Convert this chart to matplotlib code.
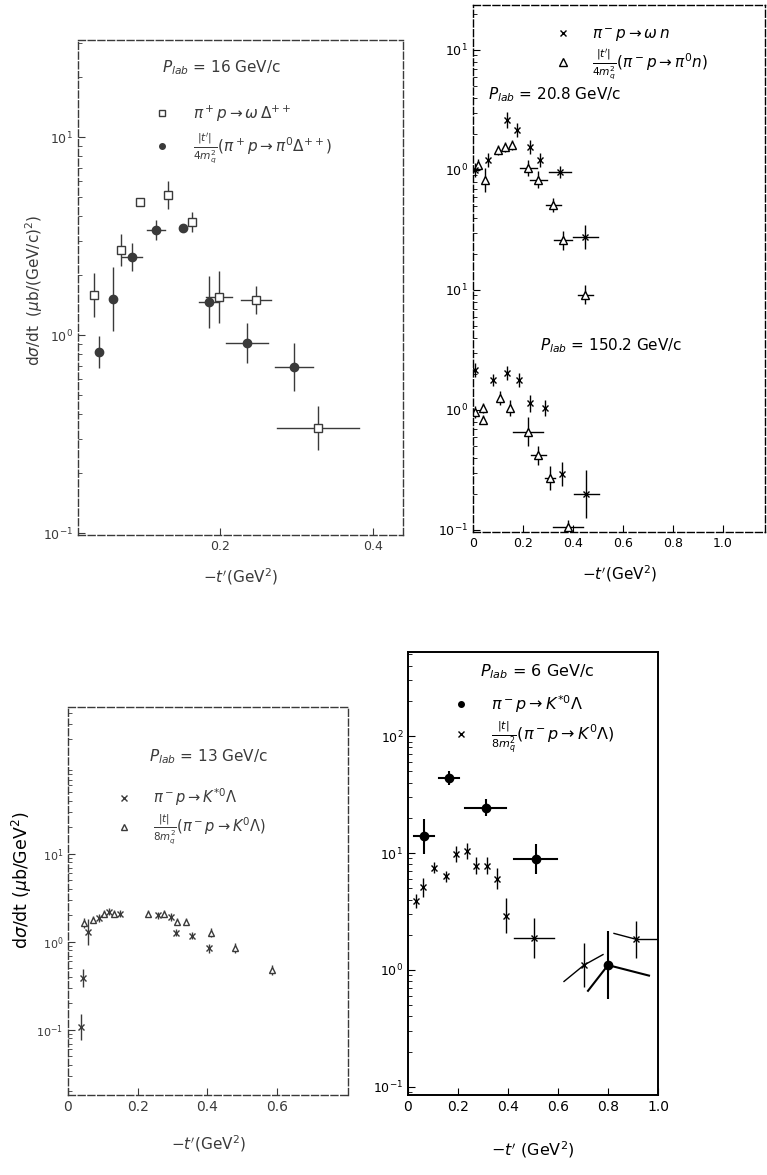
import numpy as np
import matplotlib
matplotlib.use("Agg")
import matplotlib.pyplot as plt
from matplotlib.lines import Line2D

plt.rcParams['font.family'] = ['DejaVu Sans']
plt.rcParams['mathtext.fontset'] = 'dejavusans'

# --- P_lab = 16 GeV/c (pi+ p) ---
t_om16 = [0.035, 0.071, 0.095, 0.132, 0.163, 0.199, 0.247, 0.328]
ds_om16 = [1.59, 2.69, 4.7, 5.1, 3.72, 1.56, 1.50, 0.34]
e_om16 = [0.11, 0.08, 0.02, 0.07, 0.05, 0.13, 0.07, 0.11]
dx_om16 = [0, 0, 0, 0, 0, 0.017, 0.02, 0.053]

t_pi16 = [0.042, 0.060, 0.085, 0.116, 0.152, 0.186, 0.235, 0.297]
ds_pi16 = [0.82, 1.52, 2.48, 3.39, 3.47, 1.47, 0.91, 0.69]
e_pi16 = [0.08, 0.16, 0.07, 0.05, 0.02, 0.13, 0.10, 0.12]
dx_pi16 = [0, 0, 0.013, 0.012, 0, 0.013, 0.027, 0.025]

# --- P_lab = 20.8 GeV/c (pi- p), drawn shifted up by 100 ---
t_om208 = [0.008, 0.06, 0.136, 0.176, 0.228, 0.268, 0.348, 0.448]
ds_om208 = [1.0, 1.21, 2.61, 2.15, 1.55, 1.21, 0.96, 0.277]
e_om208 = [0.06, 0.06, 0.07, 0.06, 0.06, 0.06, 0.05, 0.1]
dx_om208 = [0, 0, 0, 0, 0, 0, 0.044, 0.05]

t_pi208 = [0.02, 0.048, 0.10, 0.128, 0.156, 0.22, 0.26, 0.32, 0.36, 0.448]
ds_pi208 = [1.10, 0.83, 1.47, 1.55, 1.62, 1.04, 0.83, 0.51, 0.26, 0.091]
e_pi208 = [0.05, 0.1, 0.04, 0.04, 0.04, 0.07, 0.07, 0.06, 0.08, 0.08]
dx_pi208 = [0, 0, 0, 0, 0, 0.034, 0.034, 0.03, 0.035, 0.03]
shift_208 = 100.0

# --- P_lab = 150.2 GeV/c ---
t_om152 = [0.008, 0.08, 0.136, 0.184, 0.228, 0.288, 0.356, 0.452]
ds_om152 = [2.15, 1.78, 2.03, 1.78, 1.14, 1.04, 0.29, 0.20]
e_om152 = [0.06, 0.05, 0.06, 0.06, 0.07, 0.07, 0.1, 0.2]
dx_om152 = [0, 0, 0, 0, 0, 0, 0, 0.05]

t_pi152 = [0.008, 0.04, 0.04, 0.108, 0.148, 0.22, 0.26, 0.308, 0.38]
ds_pi152 = [0.96, 1.04, 0.83, 1.26, 1.04, 0.66, 0.42, 0.27, 0.106]
e_pi152 = [0.05, 0.04, 0.04, 0.06, 0.07, 0.12, 0.08, 0.1, 0.06]
dx_pi152 = [0, 0, 0, 0, 0, 0.06, 0.03, 0.02, 0.06]

# --- P_lab = 13 GeV/c ---
t_ks13 = [0.037, 0.043, 0.057, 0.089, 0.117, 0.149, 0.257, 0.294, 0.309, 0.357, 0.403]
ds_ks13 = [0.108, 0.39, 1.3, 1.87, 2.2, 2.1, 2.0, 1.92, 1.27, 1.17, 0.85]
e_ks13 = [0.15, 0.1, 0.15, 0.05, 0.04, 0.04, 0.04, 0.04, 0.04, 0.04, 0.05]

t_k013 = [0.046, 0.071, 0.103, 0.131, 0.229, 0.274, 0.314, 0.337, 0.409, 0.48, 0.586]
ds_k013 = [1.64, 1.78, 2.1, 2.1, 2.1, 2.1, 1.69, 1.69, 1.27, 0.85, 0.48]
e_k013 = [0.06, 0.04, 0.04, 0.04, 0.04, 0.04, 0.04, 0.04, 0.05, 0.06, 0.06]

# --- P_lab = 6 GeV/c ---
t_ks6 = [0.064, 0.164, 0.31, 0.51, 0.80]
ds_ks6 = [13.9, 44.0, 24.5, 8.9, 1.1]
e_ks6 = [0.15, 0.06, 0.07, 0.13, 0.29]
dxl_ks6 = [0.04, 0.04, 0.082, 0.085, 0.08]
dxr_ks6 = [0.04, 0.04, 0.082, 0.085, 0.164]
tl_ks6 = [0, 0, 0, 0, -0.22]
tr_ks6 = [0, 0, 0, 0, -0.09]

t_k06 = [0.032, 0.06, 0.104, 0.152, 0.192, 0.236, 0.272, 0.316, 0.356, 0.392, 0.504, 0.704, 0.912]
ds_k06 = [3.9, 5.1, 7.5, 6.3, 9.8, 10.4, 7.8, 7.8, 6.0, 2.9, 1.87, 1.1, 1.83]
e_k06 = [0.06, 0.08, 0.05, 0.05, 0.07, 0.07, 0.07, 0.07, 0.09, 0.15, 0.17, 0.19, 0.16]
dxl_k06 = [0, 0, 0, 0, 0, 0, 0, 0, 0, 0, 0.08, 0.08, 0.088]
dxr_k06 = [0, 0, 0, 0, 0, 0, 0, 0, 0, 0, 0.08, 0.076, 0.1]
tl_k06 = [0] * 11 + [-0.14, 0.05]
tr_k06 = [0] * 11 + [0.09, 0.0]


def draw_points(ax, x, y, e, dxl, dxr=None, tl=None, tr=None, scale=1.0,
                marker='o', ms=5, mfc='black', lw=1.0, color='black'):
    x = np.asarray(x, float)
    y = np.asarray(y, float) * scale
    e = np.asarray(e, float)
    dxl = np.asarray(dxl, float)
    dxr = dxl if dxr is None else np.asarray(dxr, float)
    tl = np.zeros_like(x) if tl is None else np.asarray(tl, float)
    tr = np.zeros_like(x) if tr is None else np.asarray(tr, float)
    ax.vlines(x, y * 10 ** (-e), y * 10 ** e, color=color, lw=lw)
    for xi, yi, l, r, a, b in zip(x, y, dxl, dxr, tl, tr):
        if l > 0 or r > 0:
            ax.plot([xi - l, xi], [yi * 10 ** a, yi], color=color, lw=lw)
            ax.plot([xi, xi + r], [yi, yi * 10 ** b], color=color, lw=lw)
    ax.plot(x, y, ls='none', marker=marker, ms=ms, mfc=mfc, mec=color, mew=1.0)


def style_axes(ax, dashed=True, color='black', labelsize=9):
    for sp in ax.spines.values():
        sp.set_color(color)
        if dashed:
            sp.set_linestyle((0, (5, 2)))
            sp.set_linewidth(1.0)
        else:
            sp.set_linewidth(1.4)
    ax.tick_params(which='both', direction='in', colors=color, labelsize=labelsize)
    ax.tick_params(which='major', length=5)
    ax.tick_params(which='minor', length=3)


W, H = 767, 1175
fig = plt.figure(figsize=(W / 100, H / 100), dpi=100)


def axes_px(x0, y0, x1, y1):
    return fig.add_axes([x0 / W, 1 - y1 / H, (x1 - x0) / W, (y1 - y0) / H])


# ---------- panel: 16 GeV/c ----------
gray = '#3a3a3a'
ax1 = axes_px(78, 40, 403, 535)
ax1.set_yscale('log')
ax1.set_xlim(0.0144, 0.439)
ax1.set_ylim(10 ** -1.01, 10 ** 1.49)
ax1.set_xticks([0.2, 0.4])
ax1.set_xticklabels(['0.2', '0.4'])
draw_points(ax1, t_om16, ds_om16, e_om16, dx_om16, marker='s', ms=6, mfc='white', color=gray)
draw_points(ax1, t_pi16, ds_pi16, e_pi16, dx_pi16, marker='o', ms=6, mfc=gray, color=gray)
style_axes(ax1, dashed=True, color=gray)
ax1.text(0.26, 0.935, r'$P_{lab}$ = 16 GeV/c', transform=ax1.transAxes, fontsize=11, color=gray)
h1 = [Line2D([], [], ls='none', marker='s', ms=5, mfc='white', mec=gray),
      Line2D([], [], ls='none', marker='o', ms=4, mfc=gray, mec=gray)]
ax1.legend(h1, [r'$\pi^+p \rightarrow \omega\,\Delta^{++}$',
                r"$\frac{|t'|}{4m_q^2}(\pi^+p \rightarrow \pi^0\Delta^{++})$"],
           loc='upper left', bbox_to_anchor=(0.17, 0.9), frameon=False, fontsize=11,
           labelcolor=gray, handletextpad=1.0, labelspacing=0.5)
ax1.set_xlabel(r"$-t'$(GeV$^2$)", fontsize=11, color=gray, labelpad=10)
fig.text(0.045, 1 - 290 / H, r'd$\sigma$/dt  ($\mu$b/(GeV/c)$^2$)', rotation=90,
         ha='center', va='center', fontsize=11, color=gray)

# ---------- panel: 20.8 and 150.2 GeV/c ----------
ax2 = axes_px(473, 5, 765, 532)
ax2.set_yscale('log')
ax2.set_xlim(0, 1.168)
ax2.set_ylim(10 ** -1.017, 10 ** 3.375)
ax2.set_xticks([0, 0.2, 0.4, 0.6, 0.8, 1.0])
ax2.set_xticklabels(['0', '0.2', '0.4', '0.6', '0.8', '1.0'])
ax2.set_yticks([0.1, 1, 10, 100, 1000])
ax2.set_yticklabels([r'$10^{-1}$', r'$10^{0}$', r'$10^{1}$', r'$10^{0}$', r'$10^{1}$'])
draw_points(ax2, t_pi208, ds_pi208, e_pi208, dx_pi208, scale=shift_208, marker='^', ms=6, mfc='white')
draw_points(ax2, t_om208, ds_om208, e_om208, dx_om208, scale=shift_208, marker='x', ms=5)
draw_points(ax2, t_pi152, ds_pi152, e_pi152, dx_pi152, marker='^', ms=6, mfc='white')
draw_points(ax2, t_om152, ds_om152, e_om152, dx_om152, marker='x', ms=5)
style_axes(ax2, dashed=True)
h2 = [Line2D([], [], ls='none', marker='x', ms=5, mec='black'),
      Line2D([], [], ls='none', marker='^', ms=6, mfc='white', mec='black')]
ax2.legend(h2, [r'$\pi^-p \rightarrow \omega\,n$',
                r"$\frac{|t'|}{4m_q^2}(\pi^-p \rightarrow \pi^0 n)$"],
           loc='upper left', bbox_to_anchor=(0.22, 0.98), frameon=False, fontsize=11,
           handletextpad=0.9, labelspacing=0.25, borderaxespad=0.3)
ax2.text(0.05, 0.83, r'$P_{lab}$ = 20.8 GeV/c', transform=ax2.transAxes, fontsize=11,
         va='center')
ax2.text(0.23, 0.345, r'$P_{lab}$ = 150.2 GeV/c', transform=ax2.transAxes, fontsize=11)
ax2.set_xlabel(r"$-t'$(GeV$^2$)", fontsize=11, labelpad=10)

# ---------- panel: 13 GeV/c ----------
ax3 = axes_px(68, 707, 348, 1095)
ax3.set_yscale('log')
ax3.set_xlim(0, 0.803)
ax3.set_ylim(10 ** -1.74, 10 ** 2.67)
ax3.set_xticks([0, 0.2, 0.4, 0.6])
ax3.set_xticklabels(['0', '0.2', '0.4', '0.6'])
ax3.set_yticks([0.1, 1, 10])
draw_points(ax3, t_k013, ds_k013, e_k013, [0] * len(t_k013), marker='^', ms=5, mfc='white', color=gray)
draw_points(ax3, t_ks13, ds_ks13, e_ks13, [0] * len(t_ks13), marker='x', ms=4, color=gray)
style_axes(ax3, dashed=True, color=gray, labelsize=8)
ax3.tick_params(axis='x', labelsize=10)
ax3.text(0.29, 0.86, r'$P_{lab}$ = 13 GeV/c', transform=ax3.transAxes, fontsize=11, color=gray)
h3 = [Line2D([], [], ls='none', marker='x', ms=4, mec=gray),
      Line2D([], [], ls='none', marker='^', ms=5, mfc='white', mec=gray)]
ax3.legend(h3, [r'$\pi^-p \rightarrow K^{*0}\Lambda$',
                r"$\frac{|t|}{8m_q^2}(\pi^-p \rightarrow K^0\Lambda)$"],
           loc='upper left', bbox_to_anchor=(0.1, 0.83), frameon=False, fontsize=10.5,
           labelcolor=gray, handletextpad=1.0, labelspacing=0.3)
ax3.set_xlabel(r"$-t'$(GeV$^2$)", fontsize=11, color=gray, labelpad=14)
fig.text(0.028, 1 - 880 / H, r'd$\sigma$/dt ($\mu$b/GeV$^2$)', rotation=90,
         ha='center', va='center', fontsize=12.5)

# ---------- panel: 6 GeV/c ----------
ax4 = axes_px(408, 652, 658, 1095)
ax4.set_yscale('log')
ax4.set_xlim(0, 1.0)
ax4.set_ylim(10 ** -1.07, 10 ** 2.72)
ax4.set_xticks([0, 0.2, 0.4, 0.6, 0.8, 1.0])
ax4.set_xticklabels(['0', '0.2', '0.4', '0.6', '0.8', '1.0'])
ax4.set_yticks([0.1, 1, 10, 100])
draw_points(ax4, t_k06, ds_k06, e_k06, dxl_k06, dxr_k06, tl_k06, tr_k06, marker='x', ms=5)
draw_points(ax4, t_ks6, ds_ks6, e_ks6, dxl_ks6, dxr_ks6, tl_ks6, tr_ks6, marker='o', ms=6, lw=1.5)
style_axes(ax4, dashed=False)
ax4.tick_params(axis='x', labelsize=10)
ax4.text(0.29, 0.945, r'$P_{lab}$ = 6 GeV/c', transform=ax4.transAxes, fontsize=11.5)
h4 = [Line2D([], [], ls='none', marker='o', ms=4, mfc='black', mec='black'),
      Line2D([], [], ls='none', marker='x', ms=5, mec='black')]
ax4.legend(h4, [r'$\pi^-p \rightarrow K^{*0}\Lambda$',
                r"$\frac{|t|}{8m_q^2}(\pi^-p \rightarrow K^0\Lambda)$"],
           loc='upper left', bbox_to_anchor=(0.09, 0.94), frameon=False, fontsize=11.5,
           handletextpad=0.9, labelspacing=0.3)
ax4.set_xlabel(r"$-t'$ (GeV$^2$)", fontsize=11.5, labelpad=18)

fig.savefig('out.png', dpi=100)
